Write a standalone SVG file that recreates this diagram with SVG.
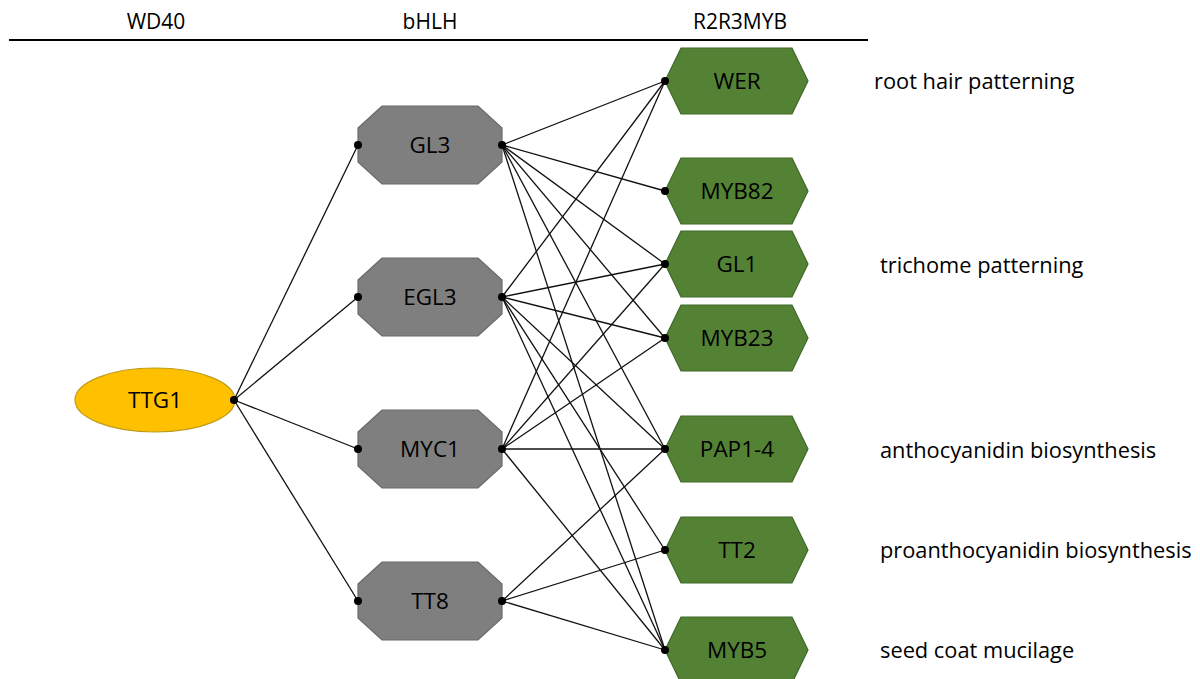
<svg xmlns="http://www.w3.org/2000/svg" width="1200" height="679" viewBox="0 0 1200 679">
<defs>
<style>
text{font-family:"Open Sans","Noto Sans","Liberation Sans",sans-serif;fill:#000}
.hdr{font-size:21px;text-anchor:middle}
.nl{font-size:22.5px;text-anchor:middle}
.lbl{font-size:21.8px}
.oct{fill:#7f7f7f;stroke:#6a6a6a;stroke-width:1.2}
.hex{fill:#548235;stroke:#41682a;stroke-width:1.2}
.ell{fill:#ffc000;stroke:#bf9a1a;stroke-width:1.2}
.c line{stroke:#111;stroke-width:1.3}
.d circle{fill:#000}
</style>
</defs>
<rect width="1200" height="679" fill="#fff"/>
<g id="header">
<text class="hdr" x="156" y="29">WD40</text>
<text class="hdr" x="430" y="29">bHLH</text>
<text class="hdr" x="740" y="29">R2R3MYB</text>
<line x1="9" y1="40" x2="868" y2="40" stroke="#000" stroke-width="2"/>
</g>
<g id="connectors" class="c">
<line x1="234" y1="400" x2="358" y2="145"/>
<line x1="234" y1="400" x2="358" y2="297"/>
<line x1="234" y1="400" x2="358" y2="449"/>
<line x1="234" y1="400" x2="358" y2="601"/>
<line x1="502" y1="145" x2="665" y2="81"/>
<line x1="502" y1="145" x2="665" y2="191"/>
<line x1="502" y1="145" x2="665" y2="264"/>
<line x1="502" y1="145" x2="665" y2="338"/>
<line x1="502" y1="145" x2="665" y2="449"/>
<line x1="502" y1="145" x2="665" y2="650"/>
<line x1="502" y1="297" x2="665" y2="81"/>
<line x1="502" y1="297" x2="665" y2="264"/>
<line x1="502" y1="297" x2="665" y2="338"/>
<line x1="502" y1="297" x2="665" y2="449"/>
<line x1="502" y1="297" x2="665" y2="550"/>
<line x1="502" y1="297" x2="665" y2="650"/>
<line x1="502" y1="449" x2="665" y2="81"/>
<line x1="502" y1="449" x2="665" y2="264"/>
<line x1="502" y1="449" x2="665" y2="338"/>
<line x1="502" y1="449" x2="665" y2="449"/>
<line x1="502" y1="449" x2="665" y2="650"/>
<line x1="502" y1="601" x2="665" y2="449"/>
<line x1="502" y1="601" x2="665" y2="550"/>
<line x1="502" y1="601" x2="665" y2="650"/>
</g>
<g id="TTG1"><ellipse class="ell" cx="155" cy="400" rx="80" ry="32"/><text class="nl" x="155" y="408">TTG1</text></g>
<g id="GL3"><polygon class="oct" points="382,106 478,106 502,128 502,162 478,184 382,184 358,162 358,128"/><text class="nl" x="430" y="153">GL3</text></g>
<g id="EGL3"><polygon class="oct" points="382,258 478,258 502,280 502,314 478,336 382,336 358,314 358,280"/><text class="nl" x="430" y="305">EGL3</text></g>
<g id="MYC1"><polygon class="oct" points="382,410 478,410 502,432 502,466 478,488 382,488 358,466 358,432"/><text class="nl" x="430" y="457">MYC1</text></g>
<g id="TT8"><polygon class="oct" points="382,562 478,562 502,584 502,618 478,640 382,640 358,618 358,584"/><text class="nl" x="430" y="609">TT8</text></g>
<g id="WER"><polygon class="hex" points="665,81 681,48 792,48 808,81 792,114 681,114"/><text class="nl" x="737" y="89">WER</text></g>
<g id="MYB82"><polygon class="hex" points="665,191 681,158 792,158 808,191 792,224 681,224"/><text class="nl" x="737" y="199">MYB82</text></g>
<g id="GL1"><polygon class="hex" points="665,264 681,231 792,231 808,264 792,297 681,297"/><text class="nl" x="737" y="272">GL1</text></g>
<g id="MYB23"><polygon class="hex" points="665,338 681,305 792,305 808,338 792,371 681,371"/><text class="nl" x="737" y="346">MYB23</text></g>
<g id="PAP1-4"><polygon class="hex" points="665,449 681,416 792,416 808,449 792,482 681,482"/><text class="nl" x="737" y="457">PAP1-4</text></g>
<g id="TT2"><polygon class="hex" points="665,550 681,517 792,517 808,550 792,583 681,583"/><text class="nl" x="737" y="558">TT2</text></g>
<g id="MYB5"><polygon class="hex" points="665,650 681,617 792,617 808,650 792,683 681,683"/><text class="nl" x="737" y="658">MYB5</text></g>
<g id="dots" class="d">
<circle cx="234" cy="400" r="4"/>
<circle cx="358" cy="145" r="4"/><circle cx="502" cy="145" r="4"/>
<circle cx="358" cy="297" r="4"/><circle cx="502" cy="297" r="4"/>
<circle cx="358" cy="449" r="4"/><circle cx="502" cy="449" r="4"/>
<circle cx="358" cy="601" r="4"/><circle cx="502" cy="601" r="4"/>
<circle cx="665" cy="81" r="4"/><circle cx="665" cy="191" r="4"/>
<circle cx="665" cy="264" r="4"/><circle cx="665" cy="338" r="4"/>
<circle cx="665" cy="449" r="4"/><circle cx="665" cy="550" r="4"/>
<circle cx="665" cy="650" r="4"/>
</g>
<g id="labels">
<text class="lbl" x="874" y="89">root hair patterning</text>
<text class="lbl" x="880" y="273">trichome patterning</text>
<text class="lbl" x="880" y="458">anthocyanidin biosynthesis</text>
<text class="lbl" x="880" y="558">proanthocyanidin biosynthesis</text>
<text class="lbl" x="880" y="658">seed coat mucilage</text>
</g>
</svg>
